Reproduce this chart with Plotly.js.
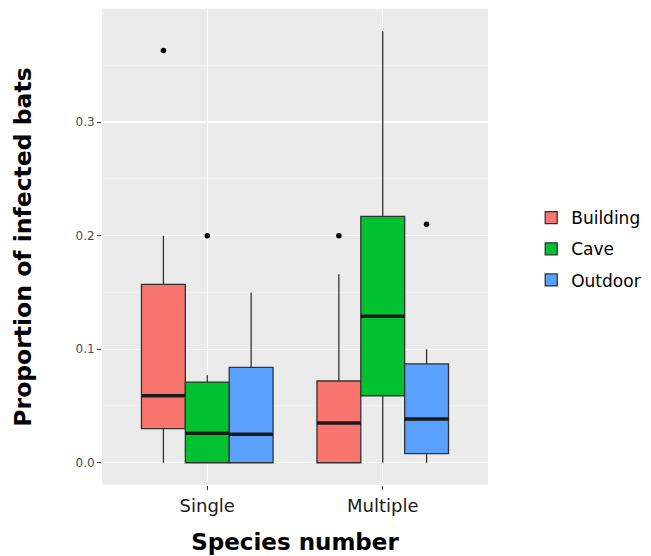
<!DOCTYPE html>
<html>
<head>
<meta charset="utf-8">
<script src="https://cdn.plot.ly/plotly-3.0.1.min.js"></script>
<style>html,body{margin:0;padding:0;background:#fff;}#chart{width:651px;height:556px;}</style>
</head>
<body>
<div id="chart"></div>
<script>
// Data
const categories = ["Single", "Multiple"];
const seriesNames = ["Building", "Cave", "Outdoor"];
const seriesColors = ["#F8766D", "#00C12F", "#59A0FF"];

const lowerWhisker = {Building: [0, 0],      Cave: [0, 0],      Outdoor: [0, 0]};
const q1Values     = {Building: [0.030, 0],  Cave: [0, 0.059],  Outdoor: [0, 0.008]};
const medianValues = {Building: [0.059, 0.035], Cave: [0.026, 0.129], Outdoor: [0.025, 0.0385]};
const q3Values     = {Building: [0.157, 0.072], Cave: [0.071, 0.217], Outdoor: [0.084, 0.087]};
const upperWhisker = {Building: [0.200, 0.166], Cave: [0.077, 0.380], Outdoor: [0.150, 0.100]};
const outlierValues = {Building: [[0.363], [0.200]], Cave: [[0.200], []], Outdoor: [[], [0.210]]};

const catPos = categories.map((c, i) => i + 1);
const boxWidthUnits = 0.25;
const traces = [];

seriesNames.forEach((name, s) => {
  traces.push({
    type: "box",
    name: name,
    x: catPos,
    q1: q1Values[name],
    median: medianValues[name],
    q3: q3Values[name],
    lowerfence: lowerWhisker[name],
    upperfence: upperWhisker[name],
    fillcolor: seriesColors[s],
    line: {color: "#333333", width: 1.3},
    whiskerwidth: 0,
    offsetgroup: name,
    legendgroup: name,
    hoverinfo: "skip"
  });
});
// thick median lines (ggplot style)
seriesNames.forEach((name, s) => {
  const m = medianValues[name];
  traces.push({
    type: "box",
    name: name + " median",
    x: catPos,
    q1: m, median: m, q3: m, lowerfence: m, upperfence: m,
    fillcolor: "rgba(0,0,0,0)",
    line: {color: "#1a1a1a", width: 3.5},
    whiskerwidth: 0,
    offsetgroup: name,
    legendgroup: name,
    showlegend: false,
    hoverinfo: "skip"
  });
});
// outliers
seriesNames.forEach((name, s) => {
  const xs = [], ys = [];
  outlierValues[name].forEach((vals, ci) => {
    vals.forEach(v => { xs.push(catPos[ci] + (s - 1) * boxWidthUnits); ys.push(v); });
  });
  traces.push({
    type: "scatter", mode: "markers", x: xs, y: ys,
    marker: {color: "#000000", size: 5.5},
    showlegend: false, hoverinfo: "skip", cliponaxis: false
  });
});

const layout = {
  width: 651, height: 556,
  margin: {l: 102, r: 163, t: 9, b: 71},
  paper_bgcolor: "#ffffff",
  plot_bgcolor: "#EBEBEB",
  font: {family: "DejaVu Sans, Verdana, sans-serif", color: "#000"},
  boxmode: "group",
  boxgap: 0.25,
  boxgroupgap: 0,
  showlegend: true,
  legend: {
    xref: "container", yref: "container",
    x: 0.816, xanchor: "left", y: 0.64, yanchor: "top",
    font: {size: 17, color: "#000"},
    traceorder: "grouped", tracegroupgap: 6,
    bgcolor: "rgba(0,0,0,0)"
  },
  xaxis: {
    range: [0.4, 2.6],
    tickvals: catPos, ticktext: categories,
    showgrid: true, gridcolor: "#ffffff", gridwidth: 1.3,
    zeroline: false, showline: false,
    ticks: "outside", ticklen: 4, tickcolor: "#333333", tickwidth: 1,
    tickfont: {size: 18, color: "#1a1a1a"},
    title: {text: "Species number", font: {size: 23, color: "#000", weight: "bold"}, standoff: 19}
  },
  yaxis: {
    range: [-0.0196, 0.3996],
    tickvals: [0, 0.1, 0.2, 0.3], ticktext: ["0.0", "0.1", "0.2", "0.3"],
    showgrid: true, gridcolor: "#ffffff", gridwidth: 1.3,
    minor: {dtick: 0.05, tick0: 0, showgrid: true, gridcolor: "#F5F5F5", gridwidth: 0.6},
    zeroline: false, showline: false,
    ticks: "outside", ticklen: 4, tickcolor: "#333333", tickwidth: 1,
    tickfont: {size: 12, color: "#4d4d4d"},
    title: {text: "Proportion of infected bats", font: {size: 23.5, color: "#000", weight: "bold"}, standoff: 37}
  }
};

Plotly.newPlot("chart", traces, layout, {staticPlot: true, displayModeBar: false});
</script>
</body>
</html>
